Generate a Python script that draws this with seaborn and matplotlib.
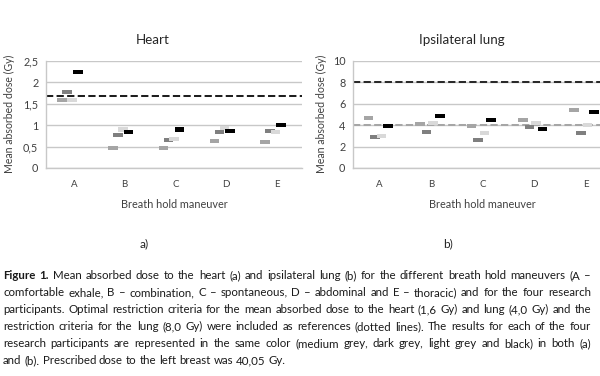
import matplotlib
matplotlib.use("Agg")
import matplotlib.pyplot as plt
from matplotlib.path import Path
from matplotlib import font_manager
import pandas as pd
import seaborn as sns

# ---------------- data ----------------
categories = ["A", "B", "C", "D", "E"]
participants = ["medium grey", "dark grey", "light grey", "black"]

heart_medium = [1.58, 0.46, 0.47, 0.63, 0.61]
heart_dark = [1.77, 0.77, 0.66, 0.84, 0.86]
heart_light = [1.58, 0.90, 0.68, 0.93, 0.84]
heart_black = [2.24, 0.84, 0.90, 0.86, 1.01]

lung_medium = [4.70, 4.08, 3.96, 4.45, 5.42]
lung_dark = [2.87, 3.36, 2.62, 3.80, 3.27]
lung_light = [2.99, 4.24, 3.27, 4.24, 4.05]
lung_black = [3.89, 4.83, 4.52, 3.61, 5.26]

heart_reference = 1.68
lung_reference_optimal = 4.05
lung_reference_limit = 8.0

heart_yticks = [0, 0.5, 1, 1.5, 2, 2.5]
heart_yticklabels = ["0", "0,5", "1", "1,5", "2", "2,5"]
lung_yticks = [0, 2, 4, 6, 8, 10]
lung_yticklabels = ["0", "2", "4", "6", "8", "10"]

caption_lines = [
    "Mean absorbed dose to the heart (a) and ipsilateral lung (b) for the different breath hold maneuvers (A –",
    "comfortable exhale, B – combination, C – spontaneous, D – abdominal and E – thoracic) and for the four research",
    "participants. Optimal restriction criteria for the mean absorbed dose to the heart (1,6 Gy) and lung (4,0 Gy) and the",
    "restriction criteria for the lung (8,0 Gy) were included as references (dotted lines). The results for each of the four",
    "research participants are represented in the same color (medium grey, dark grey, light grey and black) in both (a)",
    "and (b). Prescribed dose to the left breast was 40,05 Gy.",
]

# ---------------- style ----------------
palette = {"medium grey": "#a5a5a5", "dark grey": "#7f7f7f",
           "light grey": "#d9d9d9", "black": "#000000"}
heart_offsets = [-0.235, -0.135, -0.035, 0.075]
lung_offsets = [-0.22, -0.09, 0.035, 0.165]

sns.set_style("white")
names = {f.name for f in font_manager.fontManager.ttflist}
main_font = "Lato" if "Lato" in names else "DejaVu Sans"
cap_font = main_font
plt.rcParams["font.family"] = [main_font, "DejaVu Sans"]

W, H = 600, 376
fig = plt.figure(figsize=(W / 100, H / 100), dpi=100)
fig.patch.set_facecolor("white")


def box(l, t, r, b):
    return [l / W, 1 - b / H, (r - l) / W, (b - t) / H]


ax1 = fig.add_axes(box(46, 61, 302, 168))
ax2 = fig.add_axes(box(353, 61, 600, 168))

rect = Path([(-1, -0.42), (1, -0.42), (1, 0.42), (-1, 0.42), (-1, -0.42)],
            [Path.MOVETO, Path.LINETO, Path.LINETO, Path.LINETO, Path.CLOSEPOLY])


def long_df(series, offsets):
    rows = []
    for p, vals, off in zip(participants, series, offsets):
        for i, (c, v) in enumerate(zip(categories, vals)):
            rows.append(dict(participant=p, category=c, pos=i + off, value=v))
    return pd.DataFrame(rows)


heart_df = long_df([heart_medium, heart_dark, heart_light, heart_black], heart_offsets)
lung_df = long_df([lung_medium, lung_dark, lung_light, lung_black], lung_offsets)

grid_c = "#c8c8c8"
tick_c = "#404040"


def style(ax, ylim, yticks, ylabels, xlim):
    ax.set_xlim(xlim)
    ax.set_ylim(ylim)
    ax.set_yticks(yticks)
    ax.set_yticklabels(ylabels)
    ax.set_xticks(range(len(categories)))
    ax.set_xticklabels(categories)
    ax.grid(axis="y", color=grid_c, lw=1.0)
    ax.grid(axis="x", visible=False)
    ax.set_axisbelow(True)
    for s in ["top", "right"]:
        ax.spines[s].set_visible(False)
    for s in ["left", "bottom"]:
        ax.spines[s].set_color(grid_c)
        ax.spines[s].set_linewidth(1.0)
    ax.tick_params(axis="y", length=0, labelsize=7.8, colors=tick_c, pad=5.5)
    ax.tick_params(axis="x", length=0, labelsize=7.0, colors=tick_c, pad=8.5)
    ax.set_xlabel("")
    ax.set_ylabel("")
    ax.set_facecolor("white")


sns.scatterplot(data=heart_df, x="pos", y="value", hue="participant",
                palette=palette, marker=rect, s=48, linewidth=0,
                legend=False, ax=ax1, zorder=3)
sns.scatterplot(data=lung_df, x="pos", y="value", hue="participant",
                palette=palette, marker=rect, s=48, linewidth=0,
                legend=False, ax=ax2, zorder=3)

dash = (0, (3.6, 1.65))
ax1.axhline(heart_reference, color="#1e1e1e", lw=1.45, ls=dash, zorder=2)
ax2.axhline(lung_reference_limit, color="#2a2a2a", lw=1.45, ls=dash, zorder=2)
ax2.axhline(lung_reference_optimal, color="#a6a6a6", lw=1.45, ls=dash, zorder=2)

style(ax1, (0, 2.5), heart_yticks, heart_yticklabels, (-0.55, 4.49))
style(ax2, (0, 10), lung_yticks, lung_yticklabels, (-0.52, 4.28))

def ft(x, y, s, **kw):
    return fig.text(x / W, 1 - y / H, s, **kw)

title_c = "#262626"
ft(153, 40, "Heart", ha="center", va="center", fontsize=9.6, color=title_c)
ft(462, 40, "Ipsilateral lung", ha="center", va="center", fontsize=9.6, color=title_c)
ft(174, 205, "Breath hold maneuver", ha="center", va="center", fontsize=7.8, color=tick_c)
ft(482, 205, "Breath hold maneuver", ha="center", va="center", fontsize=7.8, color=tick_c)
ft(9, 114, "Mean absorbed dose (Gy)", ha="center", va="center", rotation=90, fontsize=7.6, color=tick_c)
ft(321, 114, "Mean absorbed dose (Gy)", ha="center", va="center", rotation=90, fontsize=7.6, color=tick_c)
ft(144, 244, "a)", ha="center", va="center", fontsize=8.5, color="#222222")
ft(448, 244, "b)", ha="center", va="center", fontsize=8.5, color="#222222")

# ---------------- caption (justified) ----------------
renderer = fig.canvas.get_renderer()
cap_c = "#1a1a1a"
x0, x1 = 3.0, 591.0
base_y = 279.0
line_h = 17.0


def width_of(s, fs, weight="normal"):
    t = fig.text(0, 0, s, fontsize=fs, family=[cap_font, "DejaVu Sans"], weight=weight)
    w = t.get_window_extent(renderer).width
    t.remove()
    return w

fs = 9.0
natural = [width_of("Figure 1. " + caption_lines[0], fs)] + [width_of(l, fs) for l in caption_lines[1:]]
fs = fs * (x1 - x0) / max(natural) * 0.99
space_w = width_of("a a", fs) - width_of("aa", fs)

for i, line in enumerate(caption_lines):
    words = [(w, "normal") for w in line.split(" ")]
    if i == 0:
        words = [("Figure", "bold"), ("1.", "bold")] + words
    widths = [width_of(w, fs, wt) for w, wt in words]
    if i < len(caption_lines) - 1:
        gap = (x1 - x0 - sum(widths)) / (len(words) - 1)
    else:
        gap = space_w
    x = x0
    y = base_y + i * line_h
    for (w, wt), wd in zip(words, widths):
        ft(x, y, w, fontsize=fs, weight=wt, color=cap_c, ha="left", va="baseline",
           family=[cap_font, "DejaVu Sans"])
        x += wd + gap

fig.savefig("out.png", dpi=100, facecolor="white")
